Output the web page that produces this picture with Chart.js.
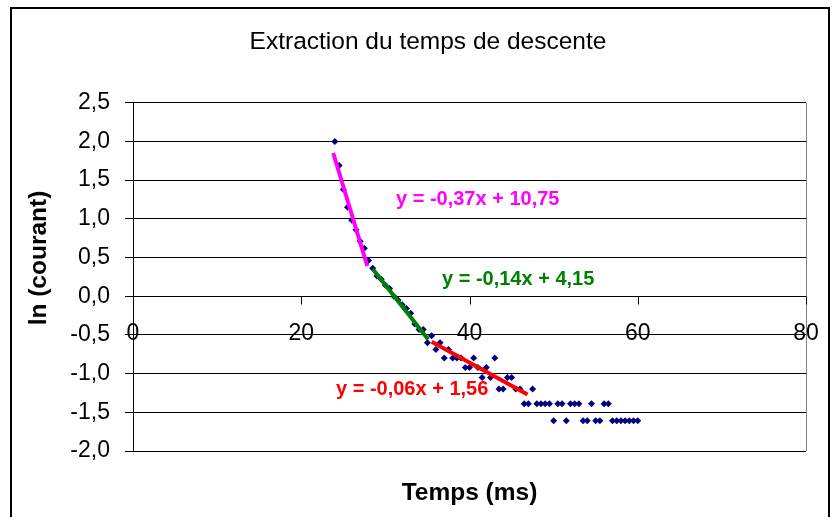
<!DOCTYPE html>
<html>
<head>
<meta charset="utf-8">
<script src="https://cdn.jsdelivr.net/npm/chart.js@4.4.1/dist/chart.umd.min.js"></script>
<style>
	html, body { margin: 0; padding: 0; background: #fff; }
	#chart-descente { display: block; }
</style>
</head>
<body>
<canvas id="chart-descente" width="835" height="517"></canvas>
<script>
// Data
const TIME = [
	24, 24.5, 25, 25.5, 26, 26.5, 27, 27.5, 28, 28.5,
	29, 29.5, 30, 30.5, 31, 31.5, 32, 32.5, 33, 33.5,
	34, 34.5, 35, 35.5, 36, 36.5, 37, 37.5, 38, 38.5,
	39, 39.5, 40, 40.5, 41, 41.5, 42, 42.5, 43, 43.5,
	44, 44.5, 45, 45.5, 46, 46.5, 47, 47.5, 48, 48.5,
	49, 49.5, 50, 50.5, 51, 51.5, 52, 52.5, 53, 53.5,
	54, 54.5, 55, 55.5, 56, 56.5, 57, 57.5, 58, 58.5,
	59, 59.5, 60,
];
const LN_COURANT = [
	2.0, 1.69, 1.38, 1.15, 0.98, 0.86, 0.71, 0.62, 0.46, 0.36,
	0.26, 0.22, 0.14, 0.1, 0.0, -0.05, -0.11, -0.16, -0.22, -0.36,
	-0.43, -0.43, -0.6, -0.51, -0.69, -0.6, -0.8, -0.69, -0.8, -0.8,
	-0.8, -0.92, -0.92, -0.8, -0.92, -1.05, -0.92, -1.05, -0.8, -1.2,
	-1.2, -1.05, -1.05, -1.2, -1.2, -1.39, -1.39, -1.2, -1.39, -1.39,
	-1.39, -1.39, -1.61, -1.39, -1.39, -1.61, -1.39, -1.39, -1.39, -1.61,
	-1.61, -1.39, -1.61, -1.61, -1.39, -1.39, -1.61, -1.61, -1.61, -1.61,
	-1.61, -1.61, -1.61,
];

// Trend lines (end points)
const FIT1_X = [23.8, 27.85];
const FIT1_Y = [1.85, 0.39];
const FIT2_X = [28.5, 35.1];
const FIT2_Y = [0.35, -0.56];
const FIT3_X = [35.5, 46.9];
const FIT3_Y = [-0.59, -1.27];
const FIT_LABELS = ["y = -0,37x + 10,75", "y = -0,14x + 4,15", "y = -0,06x + 1,56"];

const X_TICKS = [0, 20, 40, 60, 80];
const Y_TICKS = [-2, -1.5, -1, -0.5, 0, 0.5, 1, 1.5, 2, 2.5];

const FONT = "Arial, 'Liberation Sans', sans-serif";
const toPoints = (xs, ys) => xs.map((x, i) => ({ x, y: ys[i] }));

//---------------------------------------------------------
// Excel-like decorations: frame, x axis at y = 0, titles, trend labels
//---------------------------------------------------------
const excelLook = {
	id: "excelLook",
	beforeDraw(chart) {
		const { ctx } = chart;
		ctx.save();
		ctx.fillStyle = "#fff";
		ctx.fillRect(0, 0, chart.width, chart.height);
		ctx.strokeStyle = "#000";
		ctx.lineWidth = 2;
		ctx.beginPath();
		ctx.moveTo(11, chart.height);
		ctx.lineTo(11, 8);
		ctx.lineTo(829, 8);
		ctx.lineTo(829, chart.height);
		ctx.stroke();
		ctx.restore();
	},
	afterDraw(chart) {
		const { ctx, chartArea: area, scales } = chart;
		const x = scales.x;
		const y = scales.y;
		ctx.save();

		// plot area right border
		ctx.strokeStyle = "#808080";
		ctx.lineWidth = 1;
		ctx.beginPath();
		ctx.moveTo(Math.round(area.right) + 0.5, area.top);
		ctx.lineTo(Math.round(area.right) + 0.5, area.bottom);
		ctx.stroke();

		// x axis crossing at y = 0
		const y0 = Math.round(y.getPixelForValue(0)) + 0.5;
		ctx.strokeStyle = "#000";
		ctx.beginPath();
		x.ticks.forEach((t) => {
			const px = Math.round(x.getPixelForValue(t.value)) + 0.5;
			ctx.moveTo(px, y0);
			ctx.lineTo(px, y0 + 8);
		});
		ctx.stroke();

		ctx.fillStyle = "#000";
		ctx.font = `23px ${FONT}`;
		ctx.textAlign = "center";
		ctx.textBaseline = "middle";
		x.ticks.forEach((t) => {
			ctx.fillText(String(t.value), x.getPixelForValue(t.value), y0 + 37);
		});

		// chart title
		ctx.font = `24.5px ${FONT}`;
		ctx.fillText("Extraction du temps de descente", 428, 42);

		// y axis title
		ctx.save();
		ctx.translate(39, 258);
		ctx.rotate(-Math.PI / 2);
		ctx.font = `bold 24.5px ${FONT}`;
		ctx.fillText("ln (courant)", 0, 0);
		ctx.restore();

		// trend line equations
		ctx.font = `bold 20px ${FONT}`;
		ctx.textAlign = "left";
		const spots = [
			{ x: 31.26, y: 1.25, color: "#FF00FF" },
			{ x: 36.73, y: 0.215, color: "#008000" },
			{ x: 24.13, y: -1.2, color: "#FF0000" },
		];
		spots.forEach((s, i) => {
			ctx.fillStyle = s.color;
			ctx.fillText(FIT_LABELS[i], x.getPixelForValue(s.x), y.getPixelForValue(s.y));
		});

		ctx.restore();
	},
};

//---------------------------------------------------------
// Chart
//---------------------------------------------------------
const fitLine = (data, color) => ({
	data,
	order: 0,
	showLine: true,
	borderColor: color,
	borderWidth: 4,
	pointRadius: 0,
	pointHoverRadius: 0,
	fill: false,
});

const CHART_DATA = {
	datasets: [
		{
			data: toPoints(TIME, LN_COURANT),
			order: 1,
			showLine: false,
			pointStyle: "rectRot",
			pointRadius: 3.5,
			pointBackgroundColor: "#000080",
			pointBorderColor: "#000080",
			pointBorderWidth: 0,
		},
		fitLine(toPoints(FIT1_X, FIT1_Y), "#FF00FF"),
		fitLine(toPoints(FIT2_X, FIT2_Y), "#008000"),
		fitLine(toPoints(FIT3_X, FIT3_Y), "#FF0000"),
	],
};

const CHART_CONFIG = {
	type: "scatter",
	data: CHART_DATA,
	options: {
		responsive: false,
		animation: false,
		devicePixelRatio: 1,
		layout: {
			padding: { left: 14, right: 29, top: 102.7, bottom: 0 },
		},
		plugins: {
			legend: { display: false },
			tooltip: { enabled: false },
		},
		scales: {
			x: {
				type: "linear",
				min: 0,
				max: 80,
				afterBuildTicks: (scale) => {
					scale.ticks = X_TICKS.map((value) => ({ value }));
				},
				afterFit: (scale) => {
					scale.height = 66;
				},
				ticks: { display: false },
				grid: { display: false },
				border: { display: false },
				title: {
					display: true,
					text: "Temps (ms)",
					color: "#000",
					font: { family: FONT, size: 24.5, weight: "bold" },
					padding: { top: 0, bottom: 9.5 },
				},
			},
			y: {
				type: "linear",
				min: -2,
				max: 2.5,
				afterBuildTicks: (scale) => {
					scale.ticks = Y_TICKS.map((value) => ({ value }));
				},
				afterFit: (scale) => {
					scale.width = 119;
				},
				ticks: {
					color: "#000",
					padding: 15,
					font: { family: FONT, size: 23 },
					callback: (v) => v.toFixed(1).replace(".", ","),
				},
				grid: {
					color: "#000",
					lineWidth: 1,
					tickLength: 8,
					drawTicks: true,
				},
				border: { color: "#000", width: 1 },
			},
		},
	},
	plugins: [excelLook],
};

new Chart(document.getElementById("chart-descente"), CHART_CONFIG);
</script>
</body>
</html>
